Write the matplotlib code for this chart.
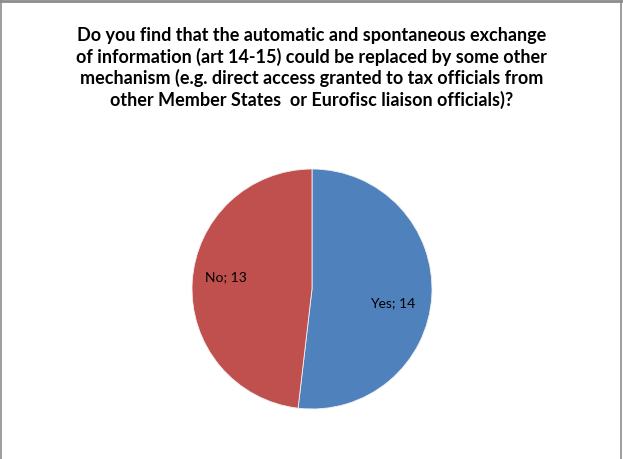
import matplotlib
matplotlib.use("Agg")
import matplotlib.pyplot as plt
from matplotlib.lines import Line2D

categories = ["Yes", "No"]
values = [14, 13]
colors = ["#4F81BD", "#C0504D"]
title = ("Do you find that the automatic and spontaneous exchange\n"
         "of information (art 14-15) could be replaced by some other\n"
         "mechanism (e.g. direct access granted to tax officials from\n"
         "other Member States  or Eurofisc liaison officials)?")

plt.rcParams['font.family'] = ['Lato', 'DejaVu Sans']

W, H = 623, 459
fig = plt.figure(figsize=(W / 100, H / 100), dpi=100)
cx, cy, r = 312, 289, 120
ax = fig.add_axes([(cx - r) / W, (H - cy - r) / H, 2 * r / W, 2 * r / H])
wedges, _ = ax.pie(values, colors=colors, startangle=90, counterclock=False,
                   radius=1, wedgeprops=dict(edgecolor='#f0f0f0', linewidth=0.6))
ax.set_xlim(-1, 1)
ax.set_ylim(-1, 1)
ax.set_aspect('auto')

label_pos = [(0.675, -0.117), (-0.717, 0.10)]
for cat, val, (x, y) in zip(categories, values, label_pos):
    ax.text(x, y, f"{cat}; {val}", ha='center', va='center', fontsize=10, color='black')

fig.text(0.5, 1 - 68 / H, title, ha='center', va='center', fontsize=13,
         fontweight='bold', linespacing=1.25)

# border
gc = '#8c8c8c'
fig.add_artist(Line2D([0, 1], [1 - 1 / H, 1 - 1 / H], transform=fig.transFigure, color=gc, lw=2))
fig.add_artist(Line2D([0.6 / W, 0.6 / W], [0, 1], transform=fig.transFigure, color=gc, lw=1.2))
fig.add_artist(Line2D([1 - 2 / W, 1 - 2 / W], [0, 1], transform=fig.transFigure, color=gc, lw=1.2))

fig.savefig("out.png", dpi=100)
